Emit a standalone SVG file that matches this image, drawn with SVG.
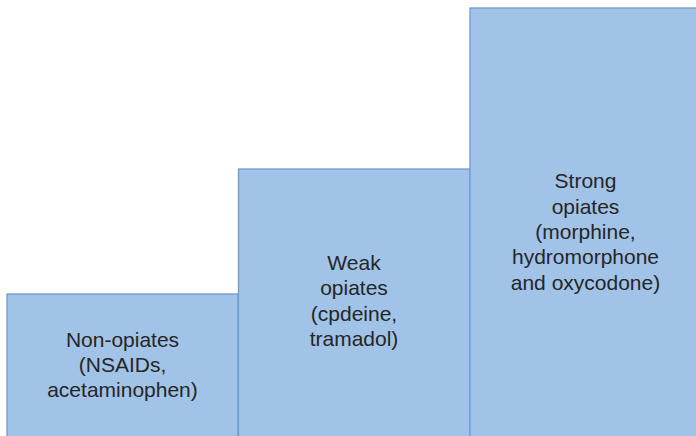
<svg xmlns="http://www.w3.org/2000/svg" width="696" height="436" viewBox="0 0 696 436">
<style>
.bar{fill:#A1C3E7;stroke:#6F9BCF;stroke-width:1.3}
.lbl{font-family:"Liberation Sans",Arial,sans-serif;font-size:21px;fill:#262626;text-anchor:middle}
</style>
<rect width="696" height="436" fill="#ffffff"/>
<g id="non-opiates">
<rect class="bar" x="7" y="294" width="231" height="150"/>
<text class="lbl" x="122.5" y="346.5">Non-opiates</text>
<text class="lbl" x="122.5" y="371.8">(NSAIDs,</text>
<text class="lbl" x="122.5" y="397.1">acetaminophen)</text>
</g>
<g id="weak-opiates">
<rect class="bar" x="238.5" y="169" width="231.5" height="275"/>
<text class="lbl" x="354" y="270">Weak</text>
<text class="lbl" x="354" y="295.3">opiates</text>
<text class="lbl" x="354" y="320.6">(cpdeine,</text>
<text class="lbl" x="354" y="345.9">tramadol)</text>
</g>
<g id="strong-opiates">
<rect class="bar" x="470" y="8" width="232" height="436"/>
<text class="lbl" x="585.5" y="188.3">Strong</text>
<text class="lbl" x="585.5" y="213.6">opiates</text>
<text class="lbl" x="585.5" y="238.9">(morphine,</text>
<text class="lbl" x="585.5" y="264.2">hydromorphone</text>
<text class="lbl" x="585.5" y="289.5">and oxycodone)</text>
</g>
<g id="connectors"></g>
</svg>
